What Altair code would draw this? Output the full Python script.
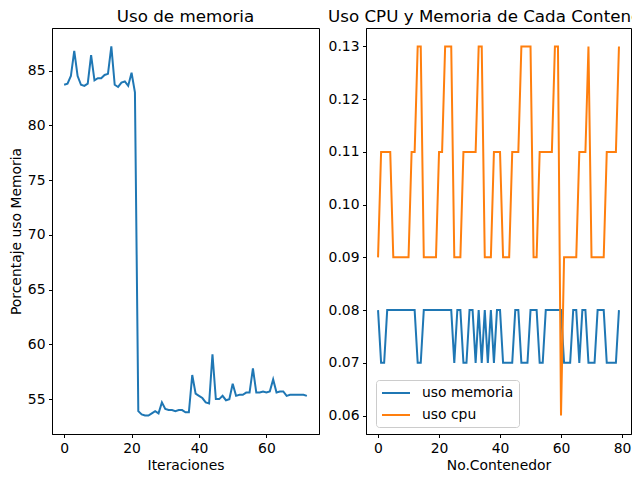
import altair as alt
import pandas as pd

# ---- Left panel: memory usage per iteration ----
mem_pct = [83.7, 83.8, 84.5, 86.8, 84.5, 83.7, 83.6, 83.8, 86.4, 84.1,
           84.3, 84.3, 84.6, 84.7, 87.2, 83.7, 83.5, 83.9, 84.0, 83.6,
           84.8, 83.0, 53.9, 53.6, 53.5, 53.5, 53.7, 53.9, 53.7, 54.7,
           54.1, 54.0, 54.0, 53.9, 54.0, 54.0, 53.8, 53.8, 57.2, 55.5,
           55.3, 55.1, 54.7, 54.6, 59.1, 55.0, 55.0, 55.3, 54.9, 55.0,
           56.4, 55.3, 55.4, 55.4, 55.6, 55.6, 57.8, 55.6, 55.6, 55.7,
           55.6, 55.7, 56.8, 55.6, 55.7, 55.7, 55.3, 55.4, 55.4, 55.4,
           55.4, 55.4, 55.3]
iteraciones = list(range(len(mem_pct)))

# ---- Right panel: CPU and memory per container ----
uso_memoria = [0.08, 0.07, 0.07, 0.08, 0.08, 0.08, 0.08, 0.08, 0.08, 0.08,
               0.08, 0.08, 0.08, 0.07, 0.07, 0.08, 0.08, 0.08, 0.08, 0.08,
               0.08, 0.08, 0.08, 0.08, 0.08, 0.07, 0.08, 0.08, 0.07, 0.07,
               0.08, 0.08, 0.07, 0.08, 0.07, 0.08, 0.07, 0.08, 0.07, 0.08,
               0.08, 0.07, 0.07, 0.07, 0.07, 0.08, 0.08, 0.07, 0.07, 0.07,
               0.08, 0.08, 0.08, 0.07, 0.07, 0.08, 0.08, 0.08, 0.08, 0.08,
               0.08, 0.07, 0.07, 0.07, 0.08, 0.08, 0.07, 0.08, 0.08, 0.07,
               0.07, 0.07, 0.08, 0.08, 0.08, 0.07, 0.07, 0.07, 0.07, 0.08]
uso_cpu = [0.09, 0.11, 0.11, 0.11, 0.11, 0.09, 0.09, 0.09, 0.09, 0.09,
           0.09, 0.11, 0.11, 0.13, 0.13, 0.09, 0.09, 0.09, 0.09, 0.09,
           0.11, 0.11, 0.13, 0.13, 0.13, 0.09, 0.09, 0.09, 0.11, 0.11,
           0.11, 0.11, 0.11, 0.13, 0.13, 0.09, 0.09, 0.09, 0.11, 0.11,
           0.11, 0.09, 0.09, 0.09, 0.11, 0.11, 0.11, 0.13, 0.13, 0.13,
           0.13, 0.09, 0.09, 0.11, 0.11, 0.11, 0.11, 0.11, 0.13, 0.13,
           0.06, 0.09, 0.09, 0.09, 0.09, 0.09, 0.11, 0.11, 0.11, 0.13,
           0.09, 0.09, 0.09, 0.09, 0.09, 0.11, 0.11, 0.11, 0.11, 0.13]
contenedor = list(range(len(uso_cpu)))
series_names = ["uso memoria", "uso cpu"]
series_colors = ["#1f77b4", "#ff7f0e"]

left_ticks_y = [55, 60, 65, 70, 75, 80, 85]
left_ticks_x = [0, 20, 40, 60]
right_ticks_y = [0.06, 0.07, 0.08, 0.09, 0.10, 0.11, 0.12, 0.13]
right_ticks_x = [0, 20, 40, 60, 80]

FONT = "DejaVu Sans"
W_L, W_R, H = 267, 265, 406
SPACING = 7
RIGHT_AXIS_W = 43

df_left = pd.DataFrame({"it": iteraciones, "mem": mem_pct})
df_right = pd.DataFrame({
    "idx": contenedor * 2,
    "val": uso_memoria + uso_cpu,
    "serie": [series_names[0]] * len(uso_memoria) + [series_names[1]] * len(uso_cpu),
})

n_left = len(mem_pct) - 1
ymin_l, ymax_l = min(mem_pct), max(mem_pct)
pad_l = 0.05 * (ymax_l - ymin_l)

left = alt.Chart(df_left).mark_line(color="#1f77b4", strokeWidth=2).encode(
    x=alt.X("it:Q", title="Iteraciones",
            scale=alt.Scale(domain=[-0.05 * n_left, 1.05 * n_left], nice=False, zero=False),
            axis=alt.Axis(values=left_ticks_x, format="d")),
    y=alt.Y("mem:Q", title="Porcentaje uso Memoria",
            scale=alt.Scale(domain=[ymin_l - pad_l, ymax_l + pad_l], nice=False, zero=False),
            axis=alt.Axis(values=left_ticks_y, format="d", titlePadding=4)),
).properties(width=W_L, height=H, title="Uso de memoria")

n_right = len(uso_cpu) - 1
allv = uso_memoria + uso_cpu
ymin_r, ymax_r = min(allv), max(allv)
pad_r = 0.05 * (ymax_r - ymin_r)

right = alt.Chart(df_right).mark_line(strokeWidth=2).encode(
    x=alt.X("idx:Q", title="No.Contenedor",
            scale=alt.Scale(domain=[-0.05 * n_right, 1.05 * n_right], nice=False, zero=False),
            axis=alt.Axis(values=right_ticks_x, format="d")),
    y=alt.Y("val:Q", title=None,
            scale=alt.Scale(domain=[ymin_r - pad_r, ymax_r + pad_r], nice=False, zero=False),
            axis=alt.Axis(values=right_ticks_y, format=".2f")),
    color=alt.Color("serie:N", sort=series_names,
                    scale=alt.Scale(domain=series_names, range=series_colors),
                    legend=alt.Legend(title=None, orient="none",
                                      legendX=W_L + SPACING + RIGHT_AXIS_W + 7,
                                      legendY=352,
                                      symbolType="M-1,0H3", symbolSize=196,
                                      symbolStrokeWidth=2, labelFontSize=13.9,
                                      labelFont=FONT, labelColor="black",
                                      padding=5, cornerRadius=3,
                                      strokeColor="#cccccc", fillColor="white",
                                      rowPadding=7, labelOffset=25)),
).properties(width=W_R, height=H, title="Uso CPU y Memoria de Cada Contenedor")

chart = alt.hconcat(left, right, spacing=SPACING).properties(
    padding={"left": 0, "top": 0, "right": -38, "bottom": 0}
).configure_view(
    stroke="black", strokeWidth=1
).configure_axis(
    grid=False, domainColor="black", tickColor="black", labelColor="black",
    titleColor="black", labelFont=FONT, titleFont=FONT, labelFontSize=13.9,
    titleFontSize=13.9, titleFontWeight="normal", tickSize=3.5,
    labelPadding=3.5, domainWidth=1, tickWidth=1
).configure_title(
    font=FONT, fontSize=16.7, fontWeight="normal", color="black", offset=2
)

chart.save("out.html", embed_options={"renderer": "svg", "actions": False})
